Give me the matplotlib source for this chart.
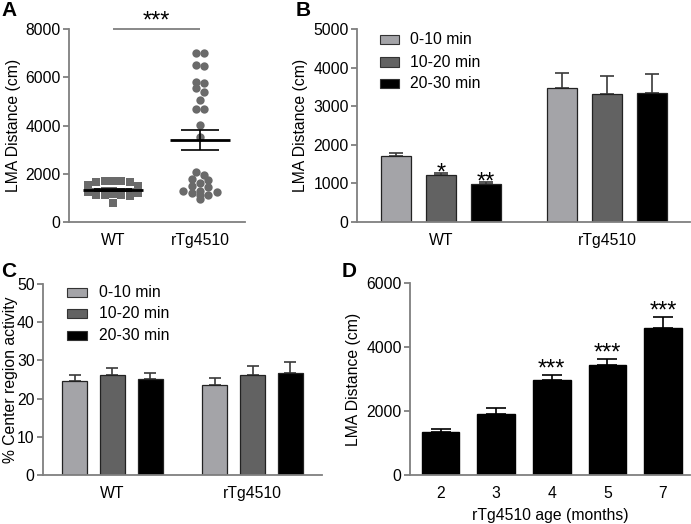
import numpy as np
import matplotlib
matplotlib.use('Agg')
import matplotlib.pyplot as plt

plt.rcParams['font.family'] = ['Liberation Sans', 'DejaVu Sans']
plt.rcParams['font.size'] = 11.3

# ---------------- data ----------------
# Panel A: individual animals
groups_A = ['WT', 'rTg4510']
wt_lma = [1720, 1700, 1680, 1660, 1650, 1520, 1490,
          1300, 1280, 1260, 1250, 1240, 1230, 1220,
          1140, 1120, 1110, 1100, 1080, 800]
rtg_lma = [7000, 7000, 6450, 6500, 5750, 5800, 5570, 5375, 5060, 4670, 4670,
           4020, 3530, 2060, 1960, 1800, 1740, 1630, 1490, 1440, 1290, 1270,
           1250, 1190, 1120, 1120, 940]

# Panel B: LMA by time bin
periods = ['0-10 min', '10-20 min', '20-30 min']
genotypes = ['WT', 'rTg4510']
lma_wt = [1720, 1210, 985]
lma_wt_sem = [75, 70, 60]
lma_rtg = [3470, 3310, 3330]
lma_rtg_sem = [390, 460, 510]
stars_B_wt = ['', '*', '**']

# Panel C: % center region activity
center_wt = [24.7, 26.1, 25.1]
center_wt_sem = [1.4, 1.8, 1.6]
center_rtg = [23.6, 26.1, 26.6]
center_rtg_sem = [1.9, 2.4, 3.1]

# Panel D: LMA by age
ages = ['2', '3', '4', '5', '7']
lma_age = [1350, 1910, 2960, 3430, 4600]
lma_age_sem = [75, 190, 150, 180, 325]
stars_D = ['', '', '***', '***', '***']

# ---------------- style ----------------
AXC = '#7f7f7f'
LIGHT = '#a4a4a8'
DARK = '#626262'
BLACK = '#000000'
bar_colors = [LIGHT, DARK, BLACK]
PT = '#6a6a6a'
FS = 11.3
STAR_FS = 17

W, H = 691, 524
fig = plt.figure(figsize=(W / 100, H / 100), dpi=100)


def add_ax(l, t, r, b):
    return fig.add_axes([l / W, 1 - b / H, (r - l) / W, (b - t) / H])


def style(ax, l, t, r, b, ylab_px):
    for s in ['top', 'right']:
        ax.spines[s].set_visible(False)
    for s in ['left', 'bottom']:
        ax.spines[s].set_color(AXC)
        ax.spines[s].set_linewidth(1.3)
    ax.tick_params(axis='y', direction='out', length=4.5, width=1.3, color=AXC,
                   pad=1.5, labelsize=FS)
    ax.tick_params(axis='x', length=0, pad=8, labelsize=FS)
    # ylab_px: right edge of the rotated y label, in figure pixels
    ax.yaxis.set_label_coords((ylab_px - l) / (r - l), 0.5)


def rows_layout(values, px_per_y, px_per_x, h, d, maxn, center_high):
    """Arrange points in horizontal rows (Prism-style scatter)."""
    vals = np.asarray(values, float)
    order = list(np.argsort(vals)[::-1])
    offs = np.zeros(len(vals))
    while order:
        start = vals[order[0]]
        row = [i for i in order if (start - vals[i]) * px_per_y < h][:maxn]
        order = [i for i in order if i not in row]
        n = len(row)
        pos = [(j - (n - 1) / 2) * d for j in range(n)]
        if center_high:
            pos_sorted = sorted(pos, key=lambda p: (abs(p), p))
        else:
            pos_sorted = sorted(pos, key=lambda p: (-abs(p), p))
        for i, p in zip(row, pos_sorted):
            offs[i] = p / px_per_x
    return offs


# ---------------- Panel A ----------------
axA = add_ax(69, 29, 245, 222)
style(axA, 69, 29, 245, 222, 21)
axA.set_xlim(-0.506, 1.517)
axA.set_ylim(0, 8000)
axA.set_yticks([0, 2000, 4000, 6000, 8000])
axA.set_xticks([0, 1])
axA.set_xticklabels(groups_A)
axA.set_ylabel('LMA Distance (cm)', fontsize=FS)
pxy = 193 / 8000
pxx = 176 / (1.517 + 0.506)
specs = [(wt_lma, 's', 34, 6.5, True), (rtg_lma, 'o', 36, 5.0, False)]
for i, (vals, mk, ms, h, ch) in enumerate(specs):
    off = rows_layout(vals, pxy, pxx, h, 8.3, 7, ch)
    axA.scatter(i + off, vals, marker=mk, s=ms, color=PT, linewidths=0,
                zorder=2, clip_on=False)
    m = np.mean(vals)
    sem = np.std(vals, ddof=1) / np.sqrt(len(vals))
    axA.hlines(m, i - 0.34, i + 0.34, color='black', lw=2, zorder=3)
    axA.hlines([m - sem, m + sem], i - 0.22, i + 0.22, color='black', lw=1.2, zorder=3)
    axA.vlines(i, m - sem, m + sem, color='black', lw=1.2, zorder=3)
axA.hlines(8000, 0, 1, color=AXC, lw=1.3, clip_on=False)
axA.annotate('***', (0.5, 8000), xytext=(0, 1), textcoords='offset points',
             ha='center', va='baseline', fontsize=STAR_FS)


def grouped(ax, groups_vals, groups_sems, centers, spacing, width, capsize):
    for g, (vals, sems) in enumerate(zip(groups_vals, groups_sems)):
        for k in range(3):
            x = centers[g] + (k - 1) * spacing
            ax.bar(x, vals[k], width, color=bar_colors[k], edgecolor='#222222',
                   linewidth=0.9, zorder=2)
            ax.errorbar(x, vals[k], yerr=[[0], [sems[k]]], color='#3a3a3a',
                        lw=1.2, capsize=capsize, capthick=1.2, zorder=1)


def legend(ax, x0, ys, hw, hh, tx):
    for k, lab in enumerate(periods):
        y = ys[k]
        ax.add_patch(plt.Rectangle((x0, y - hh / 2), hw, hh, transform=ax.transAxes,
                                   facecolor=bar_colors[k], edgecolor='#333333',
                                   lw=0.8, clip_on=False))
        ax.text(tx, y, lab, transform=ax.transAxes, va='center',
                ha='left', fontsize=FS)


# ---------------- Panel B ----------------
axB = add_ax(357, 29, 690, 222)
style(axB, 357, 29, 690, 222, 308)
axB.set_xlim(-0.506, 1.5)
axB.set_ylim(0, 5000)
axB.set_yticks(range(0, 5001, 1000))
axB.set_xticks([0, 1])
axB.set_xticklabels(genotypes)
axB.set_ylabel('LMA Distance (cm)', fontsize=FS)
grouped(axB, [lma_wt, lma_rtg], [lma_wt_sem, lma_rtg_sem], [0, 1], 0.271, 0.18, 4.8)
for k, s in enumerate(stars_B_wt):
    if s:
        axB.annotate(s, (0 + (k - 1) * 0.271, lma_wt[k] + lma_wt_sem[k]),
                     xytext=(0, -4.8), textcoords='offset points', ha='center',
                     va='baseline', fontsize=STAR_FS)
legend(axB, 0.069, [0.948, 0.829, 0.720], 0.057, 0.047, 0.159)

# ---------------- Panel C ----------------
axC = add_ax(43, 284, 322, 475)
style(axC, 43, 284, 322, 475, 18)
axC.set_xlim(-0.496, 1.496)
axC.set_ylim(0, 50)
axC.set_yticks(range(0, 51, 10))
axC.set_xticks([0, 1])
axC.set_xticklabels(genotypes)
axC.set_ylabel('% Center region activity', fontsize=FS)
grouped(axC, [center_wt, center_rtg], [center_wt_sem, center_rtg_sem], [0, 1],
        0.271, 0.179, 4.5)
legend(axC, 0.086, [0.953, 0.846, 0.728], 0.072, 0.047, 0.2)

# ---------------- Panel D ----------------
axD = add_ax(410, 283, 690, 475)
style(axD, 410, 283, 690, 475, 361)
axD.set_xlim(-0.549, 4.487)
axD.set_ylim(0, 6000)
axD.set_yticks([0, 2000, 4000, 6000])
xD = np.arange(len(ages))
axD.bar(xD, lma_age, 0.676, color='black', edgecolor='black', zorder=2)
axD.errorbar(xD, lma_age, yerr=[np.zeros(len(ages)), lma_age_sem], fmt='none',
             ecolor='black', lw=1.2, capsize=7, capthick=1.2, zorder=1)
axD.set_xticks(xD)
axD.set_xticklabels(ages)
axD.set_xlabel('rTg4510 age (months)', fontsize=FS, labelpad=5)
axD.set_ylabel('LMA Distance (cm)', fontsize=FS)
for x, v, e, s in zip(xD, lma_age, lma_age_sem, stars_D):
    if s:
        axD.annotate(s, (x, v + e), xytext=(0, 0), textcoords='offset points',
                     ha='center', va='baseline', fontsize=STAR_FS)

# panel letters
for lab, x, y in [('A', 1, 1), ('B', 296, 1), ('C', 1, 262), ('D', 342, 262)]:
    fig.text(x / W, 1 - y / H, lab, fontsize=15, fontweight='bold', va='top', ha='left')

fig.savefig('out.png', dpi=100)
